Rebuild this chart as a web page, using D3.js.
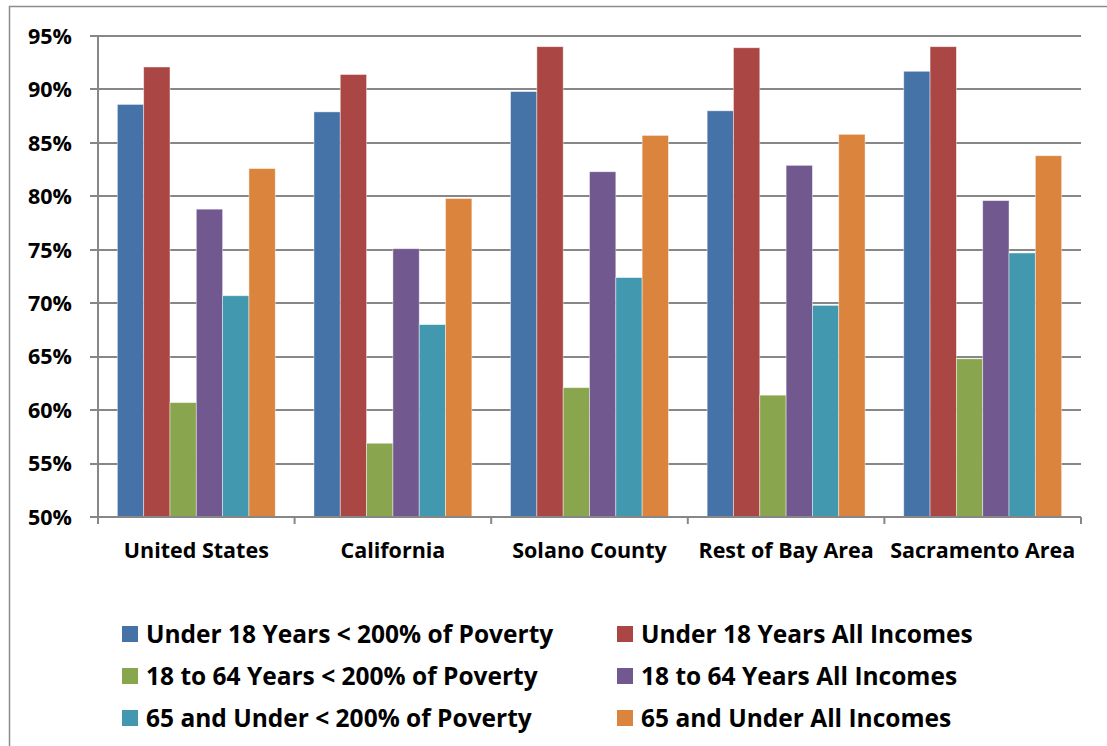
<!DOCTYPE html>
<html lang="en">
<head>
  <meta charset="UTF-8" />
  <title>Coverage by age and income</title>
  <style>
    body { margin: 0; background: #fff; }
    svg { display: block; font-family: "Open Sans", Lato, sans-serif; font-weight: bold; }
  </style>
</head>
<body>
  <div id="chart"></div>
  <script src="https://d3js.org/d3.v7.min.js"></script>
  <script>
    // data
    const categories = ['United States', 'California', 'Solano County', 'Rest of Bay Area', 'Sacramento Area'];
    const seriesNames = [
      'Under 18 Years < 200% of Poverty',
      'Under 18 Years All Incomes',
      '18 to 64 Years < 200% of Poverty',
      '18 to 64 Years All Incomes',
      '65 and Under < 200% of Poverty',
      '65 and Under All Incomes'
    ];
    const under18Poor = [88.6, 87.9, 89.8, 88.0, 91.7];
    const under18All = [92.1, 91.4, 94.0, 93.9, 94.0];
    const adultPoor = [60.7, 56.9, 62.1, 61.4, 64.8];
    const adultAll = [78.8, 75.1, 82.3, 82.9, 79.6];
    const seniorPoor = [70.7, 68.0, 72.4, 69.8, 74.7];
    const seniorAll = [82.6, 79.8, 85.7, 85.8, 83.8];
    const yTicks = [50, 55, 60, 65, 70, 75, 80, 85, 90, 95];
    const colors = ['#4572A7', '#AA4643', '#89A54E', '#71588F', '#4198AF', '#DB843D'];

    const seriesValues = [under18Poor, under18All, adultPoor, adultAll, seniorPoor, seniorAll];

    const width = 1107;
    const height = 746;
    const plot = { left: 98, right: 1081, top: 36, bottom: 517 };

    const svg = d3.select('#chart')
      .append('svg')
      .attr('width', width)
      .attr('height', height);

    // outer chart frame (only top and left edges are visible)
    svg.append('path')
      .attr('d', `M9.5,${height} V6.5 H${width}`)
      .attr('fill', 'none')
      .attr('stroke', '#8c8c8c')
      .attr('stroke-width', 1.5);

    const x0 = d3.scaleBand()
      .domain(categories)
      .range([plot.left, plot.right])
      .paddingInner(0)
      .paddingOuter(0);

    const x1 = d3.scaleBand()
      .domain(d3.range(seriesNames.length))
      .range([0, x0.bandwidth()])
      .paddingOuter(0.735)
      .paddingInner(0);

    const y = d3.scaleLinear()
      .domain([50, 95])
      .range([plot.bottom, plot.top]);

    // gridlines + left ticks
    svg.append('g')
      .selectAll('line')
      .data(yTicks)
      .join('line')
      .attr('x1', plot.left - 8)
      .attr('x2', plot.right)
      .attr('y1', d => Math.round(y(d)))
      .attr('y2', d => Math.round(y(d)))
      .attr('stroke', '#878787')
      .attr('stroke-width', 2);

    // y labels
    svg.append('g')
      .selectAll('text')
      .data(yTicks)
      .join('text')
      .attr('x', 72)
      .attr('y', d => y(d))
      .attr('dy', '0.36em')
      .attr('text-anchor', 'end')
      .attr('font-size', 21.5)
      .attr('fill', '#000')
      .text(d => d + '%');

    // bars
    const groups = svg.append('g')
      .selectAll('g')
      .data(categories)
      .join('g')
      .attr('transform', d => `translate(${x0(d)},0)`);

    groups.selectAll('rect')
      .data((c, ci) => seriesValues.map((vals, si) => ({ si, v: vals[ci] })))
      .join('rect')
      .attr('x', d => x1(d.si))
      .attr('width', x1.bandwidth())
      .attr('y', d => y(d.v))
      .attr('height', d => y(50) - y(d.v))
      .attr('fill', d => colors[d.si])
      .attr('stroke', '#ffffff')
      .attr('stroke-opacity', 0.55)
      .attr('stroke-width', 0.8);

    // axes lines
    svg.append('line')
      .attr('x1', plot.left).attr('x2', plot.left)
      .attr('y1', plot.top).attr('y2', plot.bottom + 6)
      .attr('stroke', '#878787').attr('stroke-width', 2);

    svg.append('line')
      .attr('x1', plot.left - 8).attr('x2', plot.right)
      .attr('y1', plot.bottom).attr('y2', plot.bottom)
      .attr('stroke', '#878787').attr('stroke-width', 2);

    const catTicks = categories.map(c => x0(c)).concat([plot.right]);
    svg.append('g')
      .selectAll('line')
      .data(catTicks)
      .join('line')
      .attr('x1', d => d).attr('x2', d => d)
      .attr('y1', plot.bottom).attr('y2', plot.bottom + 7)
      .attr('stroke', '#878787').attr('stroke-width', 2);

    // category labels
    svg.append('g')
      .selectAll('text')
      .data(categories)
      .join('text')
      .attr('x', d => x0(d) + x0.bandwidth() / 2)
      .attr('y', 558)
      .attr('text-anchor', 'middle')
      .attr('font-size', 21.5)
      .attr('fill', '#000')
      .text(d => d);

    // legend
    const legend = svg.append('g');
    const legendItems = legend.selectAll('g')
      .data(seriesNames)
      .join('g')
      .attr('transform', (d, i) => `translate(${i % 2 === 0 ? 122 : 617},${634 + Math.floor(i / 2) * 42})`);

    legendItems.append('rect')
      .attr('x', 0)
      .attr('y', -8)
      .attr('width', 16)
      .attr('height', 16)
      .attr('fill', (d, i) => colors[i]);

    legendItems.append('text')
      .attr('x', 24)
      .attr('y', 0)
      .attr('dy', '0.36em')
      .attr('font-size', 24.5)
      .attr('fill', '#000')
      .text(d => d);
  </script>
</body>
</html>
